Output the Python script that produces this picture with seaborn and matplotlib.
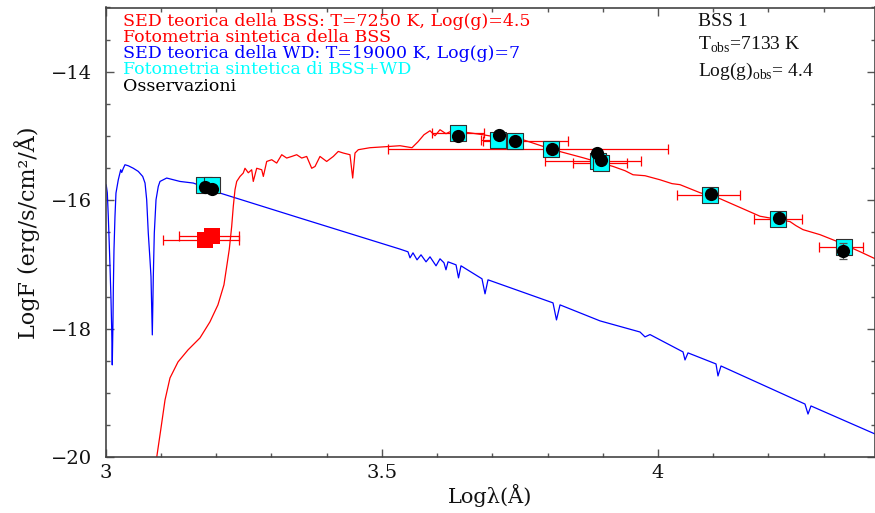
import matplotlib
matplotlib.use("Agg")
import matplotlib.pyplot as plt
from matplotlib.ticker import MultipleLocator
import numpy as np
import seaborn as sns

# Theoretical SED of the BSS (T=7250 K, log g=4.5): log(lambda/A), log F
bss_sed_logl = [3.0915, 3.0996, 3.1074, 3.1164, 3.1309, 3.1490, 3.1707, 3.1887, 3.2032,
                3.2141, 3.2196, 3.2238, 3.2281, 3.2310, 3.2341, 3.2372, 3.2432, 3.2491,
                3.2522, 3.2582, 3.2643, 3.2672, 3.2734, 3.2825, 3.2854, 3.2915, 3.3006,
                3.3096, 3.3187, 3.3277, 3.3368, 3.3458, 3.3549, 3.3639, 3.3730, 3.3790,
                3.3880, 3.4001, 3.4121, 3.4211, 3.4302, 3.4423, 3.4472, 3.4514, 3.4574,
                3.4785, 3.5057, 3.5329, 3.5546, 3.5655, 3.5763, 3.5872, 3.5962, 3.6053,
                3.6161, 3.6234, 3.6536, 3.6831, 3.7139, 3.7556, 3.8099, 3.8642, 3.9185,
                3.9403, 3.9548, 3.9765, 4.0036, 4.0253, 4.0398, 4.0760, 4.1122, 4.1846,
                4.2390, 4.2498, 4.2625, 4.2933, 4.3241, 4.3657, 4.3929]
bss_sed_logf = [-20.05, -19.575, -19.108, -18.765, -18.516, -18.329, -18.142, -17.893, -17.628,
                -17.316, -17.002, -16.760, -16.408, -16.097, -15.836, -15.707, -15.629, -15.576,
                -15.502, -15.572, -15.525, -15.707, -15.502, -15.525, -15.629, -15.396, -15.369,
                -15.421, -15.291, -15.343, -15.318, -15.291, -15.343, -15.318, -15.502, -15.474,
                -15.318, -15.396, -15.318, -15.240, -15.265, -15.291, -15.654, -15.265, -15.213,
                -15.182, -15.167, -15.151, -15.182, -15.089, -14.980, -14.918, -14.996, -14.902,
                -14.964, -14.933, -14.944, -14.980, -15.026, -15.058, -15.213, -15.338, -15.473,
                -15.540, -15.603, -15.618, -15.681, -15.741, -15.757, -15.882, -15.975, -16.248,
                -16.332, -16.395, -16.457, -16.535, -16.640, -16.800, -16.909]

# Theoretical SED of the WD (T=19000 K, log g=7)
wd_sed_logl = [3.0009, 3.0029, 3.0047, 3.0065, 3.0078, 3.0096, 3.0109, 3.0119, 3.0132,
               3.0138, 3.0150, 3.0168, 3.0186, 3.0228, 3.0272, 3.0290, 3.0319, 3.0349,
               3.0409, 3.0500, 3.0590, 3.0670, 3.0712, 3.0742, 3.0771, 3.0802, 3.0820,
               3.0844, 3.0862, 3.0880, 3.0911, 3.0952, 3.0983, 3.1104, 3.1345, 3.1586,
               3.2070, 3.3518, 3.5329, 3.5473, 3.5510, 3.5564, 3.5637, 3.5709, 3.5800,
               3.5872, 3.5981, 3.6053, 3.6125, 3.6161, 3.6198, 3.6343, 3.6388, 3.6433,
               3.6813, 3.6868, 3.6922, 3.8099, 3.8162, 3.8226, 3.8950, 3.9674, 3.9765,
               3.9855, 4.0453, 4.0489, 4.0543, 4.1050, 4.1086, 4.1141, 4.2661, 4.2716,
               4.2770, 4.3929]
wd_sed_logf = [-15.759, -15.883, -16.252, -16.693, -17.031, -17.550, -18.017, -18.562, -17.860,
               -17.393, -16.770, -16.252, -15.888, -15.681, -15.525, -15.567, -15.502, -15.447,
               -15.463, -15.502, -15.551, -15.629, -15.732, -15.992, -16.511, -16.927, -17.187,
               -18.095, -17.187, -16.511, -15.992, -15.785, -15.707, -15.654, -15.707, -15.732,
               -15.888, -16.277, -16.760, -16.802, -16.896, -16.818, -16.927, -16.849, -16.958,
               -16.880, -17.020, -16.911, -16.973, -17.082, -16.958, -17.005, -17.208, -17.020,
               -17.222, -17.456, -17.238, -17.597, -17.862, -17.628, -17.877, -18.050, -18.126,
               -18.090, -18.360, -18.485, -18.375, -18.547, -18.734, -18.579, -19.171, -19.327,
               -19.201, -19.637]

# Synthetic photometry of the BSS model, with filter extent in log(lambda)
bss_phot_logl = [3.1789, 3.1925, 3.6384, 3.7103, 3.7411, 3.8068, 3.8919, 3.8973, 4.0942, 4.2178, 4.3362]
bss_phot_logf = [-16.623, -16.553, -14.956, -15.065, -15.078, -15.206, -15.396, -15.421, -15.914, -16.291, -16.720]
filter_lo = [3.104, 3.133, 3.590, 3.680, 3.683, 3.511, 3.796, 3.846, 4.035, 4.173, 4.292]
filter_hi = [3.242, 3.242, 3.685, 3.745, 3.837, 4.018, 3.970, 3.944, 4.149, 4.260, 4.372]

# Synthetic photometry of the BSS+WD combination
combo_logl = [3.1771, 3.1925, 3.6384, 3.7103, 3.7411, 3.8068, 3.8919, 3.8973, 4.0942, 4.2178, 4.3362]
combo_logf = [-15.758, -15.766, -14.956, -15.065, -15.078, -15.206, -15.396, -15.421, -15.914, -16.291, -16.720]

# Observed photometry
obs_logl = [3.1798, 3.1930, 3.6384, 3.7116, 3.7411, 3.8081, 3.8901, 3.8968, 4.0954, 4.2191, 4.3355]
obs_logf = [-15.794, -15.826, -15.006, -14.991, -15.084, -15.202, -15.265, -15.369, -15.899, -16.277, -16.787]
obs_err = [0.03, 0.03, 0.02, 0.02, 0.02, 0.02, 0.02, 0.02, 0.03, 0.04, 0.12]

x_ticks = [3, 3.5, 4]
x_tick_labels = ["3", "3.5", "4"]
y_ticks = [-20, -18, -16, -14]

legend_lines = [
    ("SED teorica della BSS: T=7250 K, Log(g)=4.5", "#ff0000"),
    ("Fotometria sintetica della BSS", "#ff0000"),
    ("SED teorica della WD: T=19000 K, Log(g)=7", "#0000ff"),
    ("Fotometria sintetica di BSS+WD", "#00ffff"),
    ("Osservazioni", "#000000"),
]
star_info = ["BSS 1", r"T$_{\rm obs}$=7133 K", r"Log(g)$_{\rm obs}$= 4.4"]

sns.set_theme(style="ticks")
plt.rcParams["font.family"] = ["DejaVu Serif"]
plt.rcParams["mathtext.fontset"] = "custom"
plt.rcParams["mathtext.rm"] = "Liberation Serif"

W, H = 875, 513
fig = plt.figure(figsize=(W / 100, H / 100), dpi=100)
fig.patch.set_facecolor("white")
ax = fig.add_axes([105.7 / W, 1 - 457.3 / H, (W - 105.7) / W, (457.3 - 7.5) / H])
ax.set_facecolor("white")

sns.lineplot(x=wd_sed_logl, y=wd_sed_logf, sort=False, estimator=None,
             color="#0000ff", lw=0.9, ax=ax, zorder=2)
sns.lineplot(x=bss_sed_logl, y=bss_sed_logf, sort=False, estimator=None,
             color="#ff0000", lw=0.9, ax=ax, zorder=2)

lo = np.array(bss_phot_logl) - np.array(filter_lo)
hi = np.array(filter_hi) - np.array(bss_phot_logl)
ax.errorbar(bss_phot_logl, bss_phot_logf, xerr=[lo, hi], fmt="none",
            ecolor="#ff0000", elinewidth=0.9, capsize=3.5, capthick=0.9, zorder=3)
sns.scatterplot(x=bss_phot_logl, y=bss_phot_logf, marker="s", s=120,
                color="#ff0000", edgecolor="#ff0000", linewidth=0, ax=ax, zorder=4)
sns.scatterplot(x=combo_logl, y=combo_logf, marker="s", s=135,
                color="#00ffff", edgecolor="#303030", linewidth=0.8, ax=ax, zorder=5)
ax.errorbar(obs_logl, obs_logf, yerr=obs_err, fmt="none", ecolor="#555555",
            elinewidth=0.9, capsize=3, capthick=0.9, zorder=5.5)
sns.scatterplot(x=obs_logl, y=obs_logf, marker="o", s=90,
                color="#000000", edgecolor="#000000", linewidth=0, ax=ax, zorder=6)

ax.set_xlim(3, 3 + (W - 105.7) / 552.3)
ax.set_ylim(-20, -13)
ax.set_xticks(x_ticks)
ax.set_xticklabels(x_tick_labels)
ax.set_yticks(y_ticks)
ax.xaxis.set_minor_locator(MultipleLocator(0.1))
ax.yaxis.set_minor_locator(MultipleLocator(0.5))
ax.tick_params(which="both", direction="in", top=True, right=True,
               color="#555555", width=1.0, labelsize=14, labelcolor="#111111")
ax.tick_params(which="major", length=6)
ax.tick_params(which="minor", length=3)
ax.tick_params(axis="x", pad=5)
ax.tick_params(axis="y", pad=10)
for sp in ax.spines.values():
    sp.set_color("#444444")
    sp.set_linewidth(1.2)

ax.set_xlabel("Logλ(Å)", fontsize=15, color="#111111", labelpad=1)
ax.set_ylabel("LogF (erg/s/cm²/Å)", fontsize=16, color="#111111", labelpad=8)

for i, (txt, col) in enumerate(legend_lines):
    fig.text(122.5 / W, 1 - (25.5 + 16.3 * i) / H, txt, color=col, fontsize=12.5,
             ha="left", va="baseline", family=["DejaVu Serif"])

for txt, yb in zip(star_info, [26, 50, 76]):
    fig.text(698 / W, 1 - yb / H, txt, color="#111111", fontsize=14,
             ha="left", va="baseline", family=["Liberation Serif"])

fig.savefig("out.png", dpi=100, facecolor="white")
